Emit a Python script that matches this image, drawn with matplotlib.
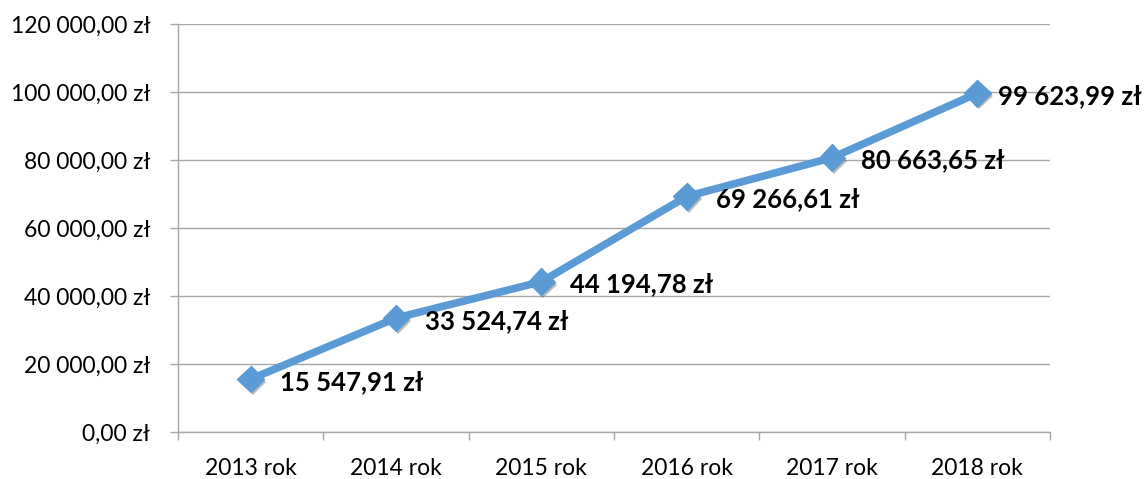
import matplotlib
matplotlib.use("Agg")
import matplotlib.pyplot as plt
import matplotlib.patheffects as pe

categories = ["2013 rok", "2014 rok", "2015 rok", "2016 rok", "2017 rok", "2018 rok"]
values = [15547.91, 33524.74, 44194.78, 69266.61, 80663.65, 99623.99]
value_labels = ["15 547,91 zł", "33 524,74 zł", "44 194,78 zł", "69 266,61 zł", "80 663,65 zł", "99 623,99 zł"]
yticks = [0, 20000, 40000, 60000, 80000, 100000, 120000]
ytick_labels = ["0,00 zł", "20 000,00 zł", "40 000,00 zł", "60 000,00 zł", "80 000,00 zł", "100 000,00 zł", "120 000,00 zł"]

plt.rcParams['font.family'] = ['Lato', 'DejaVu Sans']

fig = plt.figure(figsize=(11.47, 4.79), dpi=100)
ax = fig.add_axes([178/1147, 1-432/479, (1050-178)/1147, (432-24)/479])

x = list(range(len(categories)))
color = "#5B9BD5"
ax.plot(x, values, color=color, lw=5.5, solid_capstyle="round", zorder=3)
ax.plot(x, values, color=color, linestyle="none", marker="D", markersize=13.5,
        markeredgecolor=color, zorder=3.5,
        path_effects=[pe.SimplePatchShadow(offset=(1.5, -2), alpha=0.35, shadow_rgbFace="#404040"), pe.Normal()])

for xi, v, lab in zip(x, values, value_labels):
    dx = 21 if xi < len(categories) - 1 else 15
    ax.annotate(lab, (xi, v), xytext=(dx, -2), textcoords="offset points",
                ha="left", va="center", fontsize=18.5, fontweight="bold", color="black", zorder=4)

ax.set_xlim(-0.5, len(categories) - 0.5)
ax.set_ylim(0, 120000)
ax.set_yticks(yticks)
ax.set_yticklabels(ytick_labels, fontsize=16.5)
ax.set_xticks(x)
ax.set_xticklabels(categories, fontsize=16.5)
ax.tick_params(axis="x", length=0, pad=19)
ax.set_xticks([i - 0.5 for i in range(len(categories) + 1)], minor=True)
ax.tick_params(axis="x", which="minor", length=6, color="#A6A6A6", width=1)
ax.tick_params(axis="y", length=6, color="#A6A6A6", width=1, pad=14)
ax.yaxis.grid(True, color="#A6A6A6", lw=1)
ax.set_axisbelow(True)
for s in ["top", "right"]:
    ax.spines[s].set_visible(False)
for s in ["left", "bottom"]:
    ax.spines[s].set_color("#A6A6A6")
    ax.spines[s].set_linewidth(1)

fig.savefig("out.png", dpi=100)
